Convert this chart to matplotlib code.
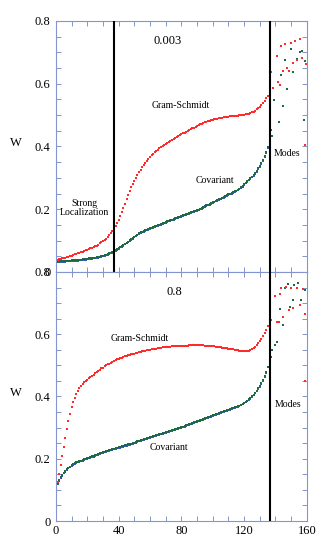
import matplotlib
matplotlib.use("Agg")
import matplotlib.pyplot as plt
import numpy as np

plt.rcParams['font.family'] = ['Liberation Serif', 'DejaVu Serif']

# ---------------------------------------------------------------
# data (W against index)
# ---------------------------------------------------------------
idx = np.arange(1, 136)

gs_top = [0.038, 0.040, 0.041, 0.043, 0.044, 0.046, 0.047, 0.049, 0.050, 0.052,
          0.054, 0.056, 0.057, 0.059, 0.061, 0.063, 0.065,
          0.067, 0.069, 0.071, 0.073, 0.075, 0.077, 0.079, 0.082, 0.084, 0.087, 0.091,
          0.094, 0.098, 0.102, 0.106, 0.111, 0.117, 0.123, 0.129, 0.137,
          0.146, 0.155, 0.165, 0.177, 0.190, 0.204, 0.218, 0.232,
          0.245, 0.258, 0.270, 0.281, 0.291, 0.301, 0.310, 0.318, 0.326, 0.334,
          0.341, 0.348, 0.355, 0.361, 0.367, 0.372, 0.377, 0.382, 0.386,
          0.390, 0.394, 0.397, 0.401, 0.404, 0.407, 0.411, 0.414, 0.418,
          0.421, 0.424, 0.427, 0.430, 0.433, 0.436, 0.439, 0.442, 0.444, 0.447, 0.450, 0.452,
          0.455, 0.458, 0.460, 0.463, 0.466, 0.468, 0.471, 0.473, 0.475, 0.477,
          0.479, 0.481, 0.482, 0.484, 0.485, 0.487, 0.488, 0.489, 0.490, 0.491,
          0.492, 0.493, 0.494, 0.494, 0.495, 0.496, 0.496, 0.497, 0.497, 0.498, 0.498,
          0.499, 0.499, 0.500, 0.501, 0.502, 0.503, 0.505, 0.507, 0.509, 0.511,
          0.514, 0.518, 0.522, 0.527, 0.532, 0.538, 0.546, 0.553, 0.560]

cov_top = [0.033, 0.034, 0.034, 0.035, 0.035, 0.035, 0.036, 0.036, 0.036, 0.037,
           0.037, 0.038, 0.038, 0.038, 0.039, 0.039, 0.040,
           0.041, 0.041, 0.042, 0.043, 0.043, 0.044, 0.045, 0.046, 0.047, 0.048, 0.049,
           0.050, 0.052, 0.053, 0.055, 0.057, 0.059, 0.061, 0.064,
           0.067, 0.070, 0.073, 0.076, 0.080, 0.083, 0.086, 0.090, 0.093,
           0.097, 0.101, 0.105, 0.108, 0.112, 0.116, 0.119, 0.123,
           0.126, 0.128, 0.130, 0.133, 0.135, 0.137, 0.139,
           0.141, 0.143, 0.145, 0.147, 0.149, 0.151, 0.153, 0.155, 0.157, 0.159,
           0.161, 0.163, 0.165, 0.167, 0.169, 0.171, 0.173, 0.175, 0.176, 0.178,
           0.180, 0.182, 0.184, 0.186, 0.188, 0.190, 0.192, 0.194, 0.195, 0.197,
           0.199, 0.202, 0.204, 0.207, 0.209, 0.212, 0.214, 0.217, 0.219, 0.222, 0.224,
           0.227, 0.229, 0.232, 0.234, 0.237, 0.239, 0.242, 0.244, 0.247, 0.249,
           0.252, 0.254, 0.257, 0.259, 0.262,
           0.266, 0.270, 0.274, 0.279, 0.284, 0.289, 0.294, 0.299, 0.304, 0.309, 0.315,
           0.322, 0.330, 0.338, 0.347, 0.357, 0.368, 0.382, 0.398]

gs_bot = [0.125, 0.152, 0.180, 0.208, 0.237, 0.266, 0.295, 0.322, 0.345, 0.365, 0.382, 0.396,
          0.408, 0.418, 0.427, 0.434, 0.440, 0.445, 0.450, 0.454,
          0.458, 0.462, 0.466, 0.470, 0.474, 0.478, 0.482, 0.486, 0.490, 0.493,
          0.497, 0.500, 0.503, 0.506, 0.509, 0.511, 0.514, 0.516, 0.519, 0.521, 0.523, 0.525,
          0.527, 0.529, 0.531, 0.532, 0.534, 0.535, 0.537, 0.538, 0.540, 0.541, 0.542, 0.544, 0.545,
          0.546, 0.547, 0.548, 0.549, 0.550, 0.551, 0.552, 0.553, 0.554, 0.555, 0.556, 0.557, 0.558,
          0.558, 0.559, 0.559, 0.560, 0.560, 0.561, 0.561, 0.561, 0.562, 0.562, 0.562, 0.562,
          0.563, 0.563, 0.563,
          0.563, 0.564, 0.564, 0.564, 0.564, 0.564, 0.564, 0.564, 0.564, 0.564, 0.564, 0.563, 0.563,
          0.563, 0.562, 0.562, 0.561, 0.561, 0.560, 0.559, 0.559, 0.558, 0.557, 0.556, 0.556,
          0.555, 0.554, 0.553,
          0.552, 0.551, 0.550, 0.549, 0.548, 0.547, 0.546, 0.546, 0.545, 0.545,
          0.545, 0.546, 0.548, 0.551, 0.555, 0.560, 0.565, 0.571,
          0.578, 0.586, 0.594, 0.603, 0.614, 0.626]

cov_bot = [0.120, 0.131, 0.140, 0.148, 0.155, 0.161, 0.166, 0.171, 0.175, 0.179,
           0.182, 0.185, 0.188, 0.190, 0.192, 0.194, 0.196, 0.198, 0.200, 0.202,
           0.204, 0.206, 0.208, 0.209, 0.211, 0.213, 0.215, 0.217, 0.219, 0.221, 0.223, 0.225,
           0.226, 0.228, 0.229, 0.231, 0.232, 0.234, 0.235, 0.237, 0.238, 0.240, 0.241,
           0.243, 0.244, 0.246, 0.247, 0.249, 0.250, 0.252, 0.254, 0.256, 0.258,
           0.260, 0.261, 0.263, 0.265, 0.266, 0.268, 0.269, 0.271, 0.273, 0.274,
           0.276, 0.277, 0.279, 0.281, 0.282, 0.284, 0.285, 0.287, 0.289, 0.290,
           0.292, 0.293, 0.295, 0.297, 0.298, 0.300, 0.301, 0.303, 0.305, 0.307,
           0.309, 0.311, 0.313, 0.315, 0.317, 0.319, 0.321, 0.322, 0.324, 0.326,
           0.328, 0.330, 0.332, 0.333, 0.335, 0.337, 0.339,
           0.341, 0.343, 0.345, 0.347, 0.349, 0.351, 0.353, 0.355, 0.357, 0.358,
           0.360, 0.362, 0.364, 0.365, 0.367, 0.369, 0.371,
           0.374, 0.377, 0.380, 0.383, 0.387, 0.391, 0.395,
           0.400, 0.406, 0.412, 0.419, 0.426, 0.434, 0.443, 0.453, 0.465, 0.479, 0.496]

# scattered "modes" region
gs_top_mx = [137.4, 138.5, 140.7, 141.7, 142.7, 143.8, 144.8, 146.3, 147.6, 148.5,
             149.6, 151.2, 152.3, 153.8, 155.5, 157.2, 158.7, 159.7]
gs_top_my = [0.636, 0.586, 0.689, 0.607, 0.597, 0.719, 0.641, 0.727, 0.650, 0.642,
             0.731, 0.666, 0.735, 0.676, 0.742, 0.682, 0.405, 0.663]
cov_top_mx = [137.0, 137.9, 139.1, 142.3, 143.4, 144.8, 146.3, 147.6, 149.8, 151.2,
              152.3, 154.0, 155.5, 156.6, 158.2, 159.1]
cov_top_my = [0.453, 0.432, 0.549, 0.477, 0.628, 0.530, 0.676, 0.583, 0.710, 0.636,
              0.735, 0.678, 0.701, 0.703, 0.485, 0.671]

gs_bot_mx = [137.0, 139.6, 140.7, 142.0, 142.7, 143.7, 144.8, 146.9, 148.5, 150.2,
             151.2, 153.4, 155.5, 157.6, 158.7, 158.7]
gs_bot_my = [0.645, 0.723, 0.640, 0.639, 0.729, 0.748, 0.654, 0.752, 0.677, 0.750,
             0.684, 0.748, 0.693, 0.745, 0.665, 0.451]
cov_bot_mx = [137.0, 138.0, 139.6, 140.7, 142.7, 144.8, 145.9, 148.0, 149.0, 151.2,
              151.9, 154.4, 156.2, 158.7, 158.7]
cov_bot_my = [0.528, 0.549, 0.566, 0.574, 0.681, 0.630, 0.750, 0.761, 0.686, 0.709,
              0.758, 0.766, 0.710, 0.741, 0.451]

# ---------------------------------------------------------------
red = '#ff2b2b'
green = '#1d6b45'
blue = '#3a56b8'
frame = '#8594cf'

fig = plt.figure(figsize=(3.35, 5.51), dpi=100)
ax1 = fig.add_axes([0.167, 0.5064, 0.749, 0.4556])
ax2 = fig.add_axes([0.167, 0.0544, 0.749, 0.4520])


def style(ax, show_x):
    ax.set_xlim(0, 160)
    ax.set_ylim(0, 0.8)
    ax.set_xticks([0, 40, 80, 120, 160])
    ax.set_xticks(np.arange(0, 161, 10), minor=True)
    ax.set_yticks([0, 0.2, 0.4, 0.6, 0.8])
    ax.set_yticklabels(['0', '0.2', '0.4', '0.6', '0.8'])
    ax.set_yticks(np.arange(0, 0.81, 0.05), minor=True)
    ax.tick_params(which='both', direction='in', top=True, right=True,
                   color=frame, width=0.7, labelsize=9, length=3.5)
    ax.tick_params(axis='y', pad=4)
    ax.tick_params(axis='x', pad=3, labelbottom=show_x)
    for s in ax.spines.values():
        s.set_color(frame)
        s.set_linewidth(0.8)


def draw(ax, gs, cov, gmx, gmy, cmx, cmy):
    ax.plot(idx, np.array(cov) - 0.002, 's', color=blue, ms=1.5, mew=0, zorder=2)
    ax.plot(idx, cov, 's', color=green, ms=1.5, mew=0, zorder=3)
    ax.plot(idx, gs, 's', color=red, ms=1.5, mew=0, zorder=3)
    ax.plot(cmx, cmy, 's', color=blue, ms=2.0, mew=0, zorder=2)
    ax.plot(cmx, cmy, 's', color=green, ms=1.7, mew=0, zorder=3)
    ax.plot(gmx, gmy, 's', color=red, ms=1.7, mew=0, zorder=3)


style(ax1, False)
style(ax2, True)

draw(ax1, gs_top, cov_top, gs_top_mx, gs_top_my, cov_top_mx, cov_top_my)
draw(ax2, gs_bot, cov_bot, gs_bot_mx, gs_bot_my, cov_bot_mx, cov_bot_my)

ax1.axvline(36.8, color='black', lw=1.5, zorder=4)
ax1.axvline(136.4, color='black', lw=1.5, zorder=4)
ax2.axvline(136.4, color='black', lw=1.5, zorder=4)

# annotations
ax1.text(71.4, 0.737, '0.003', fontsize=9, ha='center', va='center')
ax1.text(79.5, 0.53, 'Gram-Schmidt', fontsize=7, ha='center', va='center')
ax1.text(101.3, 0.293, 'Covariant', fontsize=7, ha='center', va='center')
ax1.text(18.0, 0.204, 'Strong\nLocalization', fontsize=7, ha='center', va='center',
         linespacing=0.95)
ax1.text(147.2, 0.377, 'Modes', fontsize=7, ha='center', va='center')

ax2.text(75.3, 0.737, '0.8', fontsize=9, ha='center', va='center')
ax2.text(53.2, 0.585, 'Gram-Schmidt', fontsize=7, ha='center', va='center')
ax2.text(71.9, 0.236, 'Covariant', fontsize=7, ha='center', va='center')
ax2.text(147.9, 0.373, 'Modes', fontsize=7, ha='center', va='center')

fig.text(16 / 335, 1 - 143 / 551, 'W', fontsize=9, ha='center', va='center')
fig.text(16 / 335, 1 - 393 / 551, 'W', fontsize=9, ha='center', va='center')

fig.savefig('out.png', dpi=100)
